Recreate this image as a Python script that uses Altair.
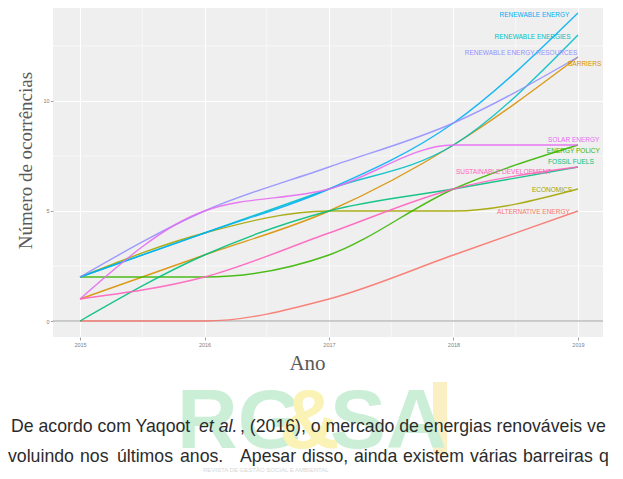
import altair as alt
import pandas as pd

# ---------------- data ----------------
years = [2015, 2016, 2017, 2018, 2019]

series_names = [
    "ALTERNATIVE ENERGY", "BARRIERS", "ECONOMICS", "ENERGY POLICY", "FOSSIL FUELS",
    "RENEWABLE ENERGIES", "RENEWABLE ENERGY", "RENEWABLE ENERGY RESOURCES",
    "SOLAR ENERGY", "SUSTAINABLE DEVELOPMENT",
]
alternative_energy = [0, 0, 1, 3, 5]
barriers = [1, 3, 5, 8, 12]
economics = [2, 4, 5, 5, 6]
energy_policy = [2, 2, 3, 6, 8]
fossil_fuels = [0, 3, 5, 6, 7]
renewable_energies = [2, 4, 6, 8, 13]
renewable_energy = [2, 4, 6, 9, 14]
renewable_energy_resources = [2, 5, 7, 9, 12]
solar_energy = [1, 5, 6, 8, 8]
sustainable_development = [1, 2, 4, 6, 7]

series_values = [
    alternative_energy, barriers, economics, energy_policy, fossil_fuels,
    renewable_energies, renewable_energy, renewable_energy_resources,
    solar_energy, sustainable_development,
]

series_colors = ["#F8766D", "#D89000", "#A3A500", "#39B600", "#00BF7D",
                 "#00BFC4", "#00B0F6", "#9590FF", "#E76BF3", "#FF62BC"]

# end-of-line label anchors (year, value), as repelled in the picture
label_year = [2018.35, 2018.92, 2018.63, 2018.75, 2018.76,
              2018.33, 2018.37, 2018.09, 2018.76, 2018.02]
label_value = [4.95, 11.68, 5.95, 7.73, 7.23,
               12.91, 13.91, 12.18, 8.23, 6.77]

x_ticks = years
y_ticks = [0, 5, 10]
x_minor = [2015.5, 2016.5, 2017.5, 2018.5]
y_minor = [2.5, 7.5, 12.5]

x_title = "Ano"
y_title = "Número de ocorrências"

# ---------------- tables ----------------
rows = []
for name, vals in zip(series_names, series_values):
    for yr, v in zip(years, vals):
        rows.append({"serie": name, "ano": yr, "n": v})
df = pd.DataFrame(rows)

labels_df = pd.DataFrame({"serie": series_names, "ano": label_year, "n": label_value})

xs = alt.Scale(domain=[2014.783, 2019.201], nice=False, zero=False)
ys = alt.Scale(domain=[-0.727, 14.59], nice=False, zero=False)
cs = alt.Scale(domain=series_names, range=series_colors)

x_axis = alt.Axis(values=x_ticks, format="d", title=x_title, grid=True,
                  gridColor="white", gridWidth=1.1,
                  labelFontSize=5.5, labelColor="#808080", labelPadding=2,
                  tickSize=3, tickColor="#A0A0A0", domain=False,
                  titleFont="Liberation Serif", titleFontSize=21,
                  titleFontWeight="normal", titleColor="#5A5A5A",
                  titleX=254, titleY=15, titleBaseline="top")
y_axis = alt.Axis(values=y_ticks, format="d", title=y_title, grid=True,
                  gridColor="white", gridWidth=1.1,
                  labelFontSize=5.5, labelColor="#808080", labelPadding=1.5,
                  tickSize=2.5, tickColor="#A0A0A0", domain=False,
                  titleFont="Liberation Serif", titleFontSize=19,
                  titleFontWeight="normal", titleColor="#5A5A5A",
                  titleX=-18, titleY=160, titleAngle=270,
                  titleBaseline="bottom")

# minor grid
vgrid = alt.Chart(pd.DataFrame({"ano": x_minor})).mark_rule(
    color="white", strokeWidth=0.6
).encode(x=alt.X("ano:Q", scale=xs, axis=x_axis))
hgrid = alt.Chart(pd.DataFrame({"n": y_minor})).mark_rule(
    color="white", strokeWidth=0.6
).encode(y=alt.Y("n:Q", scale=ys, axis=y_axis))

zero_line = alt.Chart(pd.DataFrame({"n": [0]})).mark_rule(
    color="#BDBDBD", strokeWidth=1.6
).encode(y=alt.Y("n:Q", scale=ys, axis=y_axis))

lines = alt.Chart(df).mark_line(strokeWidth=1.4, interpolate="monotone", opacity=0.9).encode(
    x=alt.X("ano:Q", scale=xs, axis=x_axis),
    y=alt.Y("n:Q", scale=ys, axis=y_axis),
    color=alt.Color("serie:N", scale=cs, legend=None),
    detail="serie:N",
)

labels = alt.Chart(labels_df).mark_text(
    align="left", baseline="middle", fontSize=6.5, font="Liberation Sans"
).encode(
    x=alt.X("ano:Q", scale=xs, axis=x_axis),
    y=alt.Y("n:Q", scale=ys, axis=y_axis),
    text="serie:N",
    color=alt.Color("serie:N", scale=cs, legend=None),
)

# ---------------- page content below the figure ----------------
one = pd.DataFrame({"k": [0]})

def txt(s, x, y, size, color, font="Liberation Sans", weight="normal", style="normal",
        align="left", baseline="middle"):
    return alt.Chart(one).mark_text(
        text=s, align=align, baseline=baseline, fontSize=size, font=font,
        fontWeight=weight, fontStyle=style, color=color
    ).encode(x=alt.value(x), y=alt.value(y))

# plot coordinates: x = page x - 53, y = page y
logo_font = "Liberation Sans Narrow, Liberation Sans"
logo_bar = alt.Chart(one).mark_rect(color="#FBF0C4").encode(
    x=alt.value(380), x2=alt.value(394), y=alt.value(382), y2=alt.value(455))
logo = [
    txt("RG", 124, 448, 84, "#CAEED6", font=logo_font, weight="bold", baseline="alphabetic"),
    txt("&", 226, 448, 84, "#FBF2B6", font=logo_font, weight="bold", baseline="alphabetic"),
    txt("SA", 277, 448, 84, "#CAEED6", font=logo_font, weight="bold", baseline="alphabetic"),
    txt("REVISTA DE GESTÃO SOCIAL E AMBIENTAL", 150, 470, 6, "#D6D6D6"),
]

para_color = "#2B2B2B"
para_size = 17.7
line1 = [("De acordo com Yaqoot", 11, "normal"), ("et al.", 199, "italic"),
         (", (2016), o mercado de energias renováveis ve", 240, "normal")]
line2 = [("voluindo", 8), ("nos", 80), ("últimos", 117), ("anos.", 180),
         ("Apesar", 240), ("disso,", 302), ("ainda", 354), ("existem", 403),
         ("várias", 470), ("barreiras", 523), ("q", 599)]
para = [txt(s, px - 53, 427, para_size, para_color, style=st) for s, px, st in line1]
para += [txt(s, px - 53, 457, para_size, para_color) for s, px in line2]

chart = alt.layer(
    vgrid, hgrid, zero_line, lines, labels, logo_bar, *logo, *para
).properties(
    width=550, height=337,
    padding={"left": 45, "top": -8, "right": 12, "bottom": 142},
    autosize=alt.AutoSizeParams(type="none"),
).configure_view(
    fill="#EFEFEF", stroke=None
)

chart.save("out.html", embed_options={"renderer": "svg", "actions": False})
